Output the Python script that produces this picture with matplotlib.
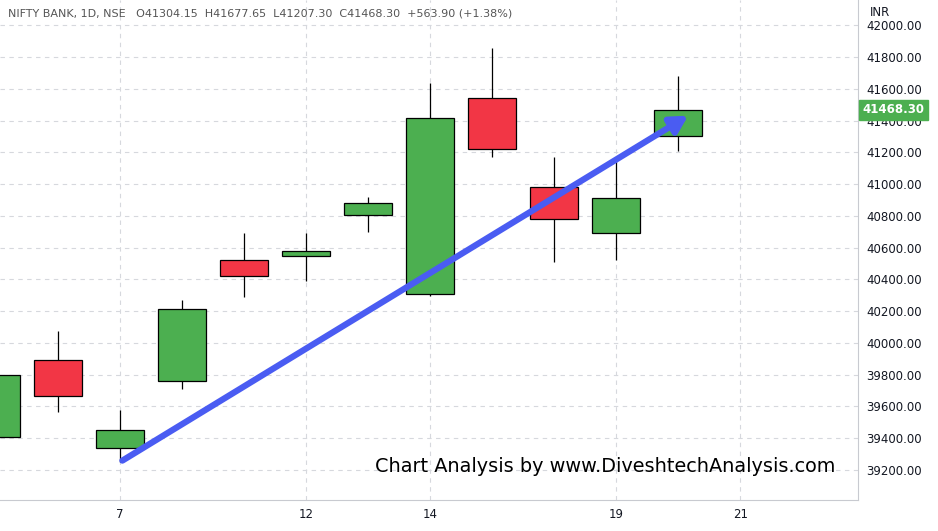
import matplotlib.pyplot as plt
from matplotlib.patches import Rectangle

# Daily candles, NIFTY BANK (index 0 is the partially visible bar)
opens = [39408, 39892, 39338, 39760, 40522, 40547, 40805, 40308, 41542, 40981, 40692, 41304.15]
closes = [39798, 39666, 39452, 40213, 40421, 40579, 40881, 41416, 41221, 40780, 40912, 41468.30]
highs = [39800, 40075, 39578, 40270, 40692, 40692, 40919, 41636, 41857, 41170, 41164, 41677.65]
lows = [39400, 39565, 39250, 39710, 40289, 40390, 40698, 40295, 41170, 40509, 40522, 41207.30]

tick_pos = [2, 5, 7, 10, 12]
tick_labels = ['7', '12', '14', '19', '21']
y_ticks = list(range(39200, 42001, 200))

arrow_start = (2.0, 39250)
arrow_end = (11.2, 41440)

fig = plt.figure(figsize=(9.38, 5.31), dpi=100)
ax = fig.add_axes([0, 31 / 531, 858 / 938, 500 / 531])

green, red = '#4caf50', '#f23645'
w = 0.78
for i, (o, c, h, l) in enumerate(zip(opens, closes, highs, lows)):
    col = green if c >= o else red
    ax.vlines(i, l, h, color='black', lw=0.9, zorder=2)
    ax.add_patch(Rectangle((i - w / 2, min(o, c)), w, abs(c - o),
                           facecolor=col, edgecolor='black', lw=0.9, zorder=3))

ax.annotate('', xy=arrow_end, xytext=arrow_start,
            arrowprops=dict(arrowstyle='-|>,head_length=1.0,head_width=0.55',
                            color='#4a5cf2', lw=4.5), zorder=5)

ax.set_xlim(0.065, 13.9)
ax.set_ylim(39011, 42159)
ax.yaxis.tick_right()
ax.set_yticks(y_ticks)
ax.set_yticklabels([f'{v:.2f}' for v in y_ticks], fontsize=8.5, color='#131722')
ax.set_xticks(tick_pos)
ax.set_xticklabels(tick_labels, fontsize=8.5, color='#131722')
ax.tick_params(length=0, pad=6)
ax.grid(True, linestyle=(0, (4, 4)), color='#d6d8dd', lw=0.8)
for s in ['top', 'left']:
    ax.spines[s].set_visible(False)
ax.spines['right'].set_color('#c8cad0')
ax.spines['bottom'].set_color('#c8cad0')

ax.text(375 / 858, 1 - 467 / 500, 'Chart Analysis by www.DiveshtechAnalysis.com',
        transform=ax.transAxes, fontsize=13.9, color='black', va='center')
fig.text(8 / 938, 1 - 13 / 531,
         'NIFTY BANK, 1D, NSE   O41304.15  H41677.65  L41207.30  C41468.30  +563.90 (+1.38%)',
         fontsize=8, color='#555', va='center')
fig.text(870 / 938, 1 - 12 / 531, 'INR', fontsize=8.5, color='#131722', va='center')
ax.text(1.005, 41468.30, '41468.30', transform=ax.get_yaxis_transform(), va='center',
        fontsize=8.5, color='white', fontweight='bold',
        bbox=dict(boxstyle='square,pad=0.3', fc=green, ec=green), zorder=6)

fig.savefig('out.png', dpi=100)
